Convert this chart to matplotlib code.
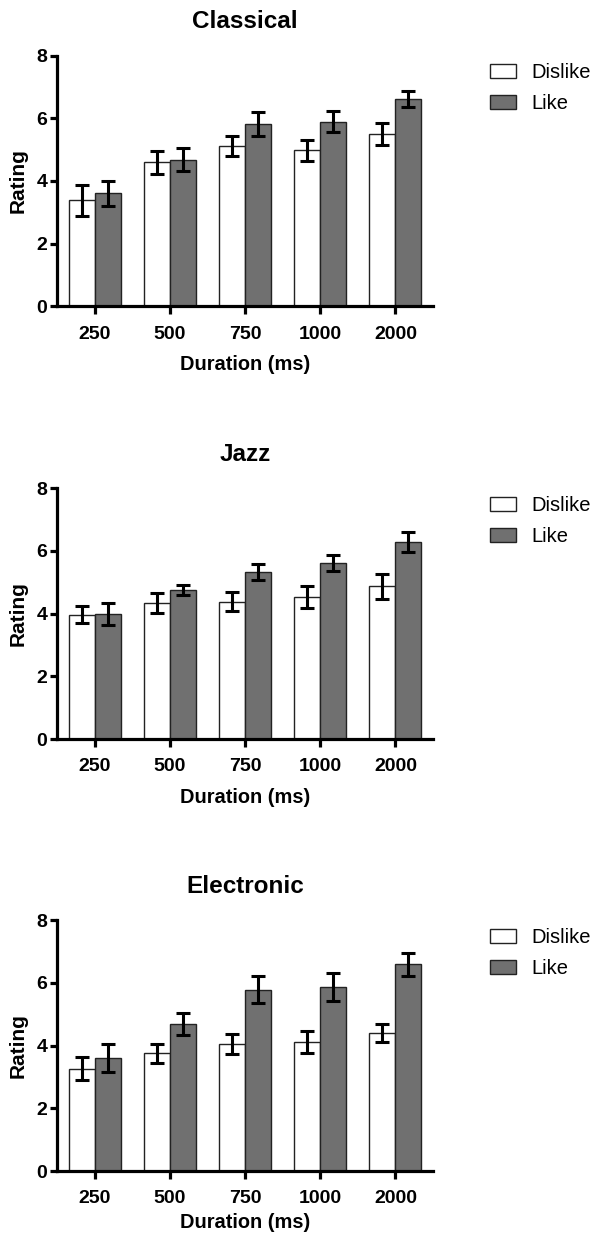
import numpy as np
import matplotlib
matplotlib.use("Agg")
import matplotlib.pyplot as plt
from matplotlib.patches import Patch

plt.rcParams['font.family'] = ['Liberation Sans', 'DejaVu Sans']

durations = ['250', '500', '750', '1000', '2000']
genres = ['Classical', 'Jazz', 'Electronic']

# mean ratings and error bar half-widths per genre
dislike_mean = {
    'Classical':  [3.38, 4.59, 5.12, 4.98, 5.50],
    'Jazz':       [3.97, 4.34, 4.38, 4.53, 4.87],
    'Electronic': [3.27, 3.76, 4.05, 4.12, 4.41],
}
dislike_err = {
    'Classical':  [0.49, 0.37, 0.32, 0.34, 0.34],
    'Jazz':       [0.27, 0.33, 0.31, 0.35, 0.41],
    'Electronic': [0.37, 0.30, 0.33, 0.35, 0.29],
}
like_mean = {
    'Classical':  [3.60, 4.68, 5.81, 5.89, 6.61],
    'Jazz':       [3.99, 4.76, 5.33, 5.61, 6.29],
    'Electronic': [3.60, 4.68, 5.79, 5.88, 6.60],
}
like_err = {
    'Classical':  [0.40, 0.37, 0.39, 0.33, 0.26],
    'Jazz':       [0.36, 0.17, 0.24, 0.26, 0.32],
    'Electronic': [0.45, 0.35, 0.42, 0.44, 0.37],
}

GRAY = '#707070'
W = 0.345

fig = plt.figure(figsize=(5.94, 12.35), dpi=100)
bottoms = [0.752, 0.4016, 0.0518]
xlabel_pads = [9, 9, 4]
x = np.arange(len(durations))

for genre, b, lpad in zip(genres, bottoms, xlabel_pads):
    ax = fig.add_axes([0.096, b, 0.633, 0.2030])
    err_kw = dict(ecolor='black', elinewidth=2.2, capsize=4.8, capthick=2.2)
    ax.bar(x - W / 2, dislike_mean[genre], W, yerr=dislike_err[genre],
           color='white', edgecolor='#222222', linewidth=1.0, error_kw=err_kw)
    ax.bar(x + W / 2, like_mean[genre], W, yerr=like_err[genre],
           color=GRAY, edgecolor='#222222', linewidth=1.0, error_kw=err_kw)

    ax.set_xlim(-0.5, 4.5)
    ax.set_ylim(0, 8)
    ax.set_yticks([0, 2, 4, 6, 8])
    ax.set_xticks(x)
    ax.set_xticklabels(durations)
    for s in ['top', 'right']:
        ax.spines[s].set_visible(False)
    for s in ['left', 'bottom']:
        ax.spines[s].set_linewidth(2.3)
    ax.tick_params(axis='both', width=2.3, length=5, labelsize=14, pad=2)
    ax.tick_params(axis='x', length=6, pad=8)
    for lab in ax.get_xticklabels() + ax.get_yticklabels():
        lab.set_fontweight('bold')

    ax.set_title(genre, fontsize=17.5, fontweight='bold', pad=20)
    ax.set_ylabel('Rating', fontsize=15, fontweight='bold', labelpad=6)
    ax.set_xlabel('Duration (ms)', fontsize=14.4, fontweight='bold', labelpad=lpad)

    handles = [Patch(facecolor='white', edgecolor='#222222', linewidth=1.0),
               Patch(facecolor=GRAY, edgecolor='#222222', linewidth=1.0)]
    ax.legend(handles, ['Dislike', 'Like'], loc='upper left',
              bbox_to_anchor=(1.113, 1.025), frameon=False, fontsize=14.5,
              handlelength=1.3, handleheight=0.7, handletextpad=0.75,
              labelspacing=0.6, borderaxespad=0.3)

fig.savefig('out.png', dpi=100)
